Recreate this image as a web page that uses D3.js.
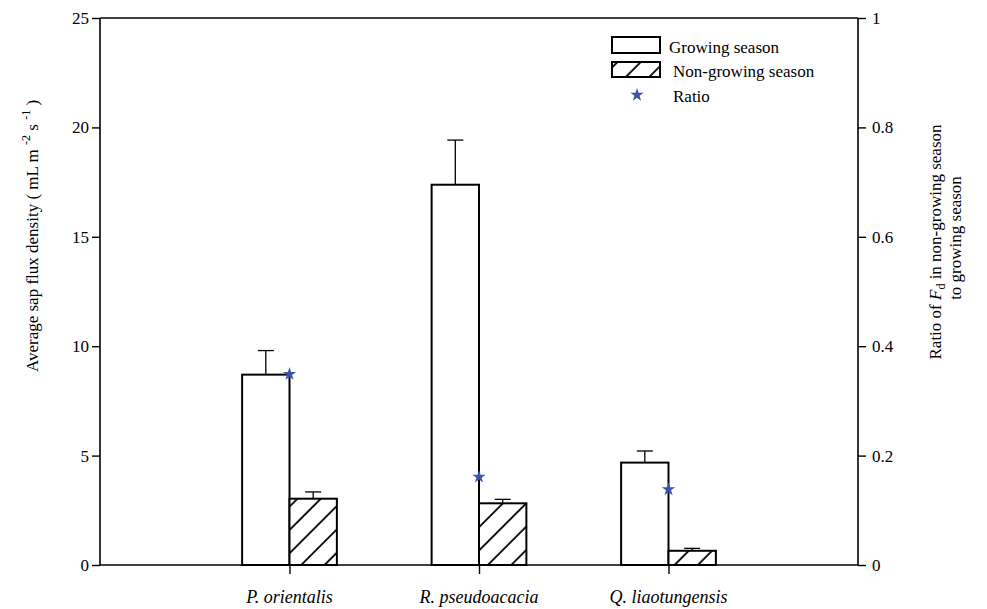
<!DOCTYPE html>
<html><head><meta charset="utf-8">
<style>
@font-face{font-family:"ChartSerif";src:local("Liberation Serif"),local("LiberationSerif");font-style:normal;}
@font-face{font-family:"ChartSerif";src:local("Liberation Serif Italic"),local("LiberationSerif-Italic");font-style:italic;}
body{margin:0;background:#fff}
svg{display:block}
svg text, svg tspan{font-family:"Liberation Serif","ChartSerif",serif}
</style>
<script src="https://cdn.jsdelivr.net/npm/d3@7"></script>
</head><body>
<script>
const categories = ["P. orientalis", "R. pseudoacacia", "Q. liaotungensis"];
const growing = [8.7, 17.38, 4.68];
const growingErr = [1.1, 2.04, 0.53];
const nonGrowing = [3.03, 2.82, 0.65];
const nonGrowingErr = [0.31, 0.18, 0.11];
const ratio = [0.349, 0.161, 0.138];
const leftTicks = [0, 5, 10, 15, 20, 25];
const rightTicks = [0, 0.2, 0.4, 0.6, 0.8, 1];

const W = 987, H = 609;
const svg = d3.select("body").append("svg").attr("width", W).attr("height", H);
const defs = svg.append("defs");
const pw = 16.5;
const pat = defs.append("pattern").attr("id", "hatch2").attr("patternUnits", "userSpaceOnUse")
  .attr("width", pw).attr("height", pw).attr("patternTransform", "rotate(45)");
pat.append("rect").attr("width", pw).attr("height", pw).attr("fill", "#fff");
pat.append("line").attr("x1", 2).attr("y1", -1).attr("x2", 2).attr("y2", pw + 1)
  .attr("stroke", "#000").attr("stroke-width", 1.8);

const L = 100, R = 858, T = 18, B = 565;
const x = d3.scaleLinear().domain([0, 4]).range([L, R]);
const yL = d3.scaleLinear().domain([0, 25]).range([B, T]);
const yR = d3.scaleLinear().domain([0, 1]).range([B, T]);
const bw = 0.25;

const g = svg.append("g");
categories.forEach((c, i) => {
  const cx = i + 1;
  [[cx - bw / 2, growing[i], growingErr[i]], [cx + bw / 2, nonGrowing[i], nonGrowingErr[i]]].forEach(([px, v, e]) => {
    g.append("line").attr("x1", x(px)).attr("x2", x(px)).attr("y1", yL(v)).attr("y2", yL(v + e))
      .attr("stroke", "#000").attr("stroke-width", 1.3);
    g.append("line").attr("x1", x(px) - 8).attr("x2", x(px) + 8).attr("y1", yL(v + e)).attr("y2", yL(v + e))
      .attr("stroke", "#000").attr("stroke-width", 1.3);
  });
  g.append("rect").attr("x", x(cx - bw)).attr("y", yL(growing[i])).attr("width", x(cx) - x(cx - bw))
    .attr("height", yL(0) - yL(growing[i])).attr("fill", "#fff").attr("stroke", "#000").attr("stroke-width", 2);
  g.append("rect").attr("x", x(cx)).attr("y", yL(nonGrowing[i])).attr("width", x(cx + bw) - x(cx))
    .attr("height", yL(0) - yL(nonGrowing[i])).attr("fill", "url(#hatch2)").attr("stroke", "#000").attr("stroke-width", 2);
});

svg.append("line").attr("x1", L).attr("x2", R).attr("y1", T).attr("y2", T).attr("stroke", "#000").attr("stroke-width", 1.6);

const axL = svg.append("g").attr("transform", `translate(${L},0)`)
  .call(d3.axisLeft(yL).tickValues(leftTicks).tickSize(8).tickPadding(3).tickFormat(d3.format("d")));
const axR = svg.append("g").attr("transform", `translate(${R},0)`)
  .call(d3.axisRight(yR).tickValues(rightTicks).tickSize(8).tickPadding(6)
    .tickFormat(d => d === 0 || d === 1 ? d3.format("d")(d) : d3.format(".1f")(d)));
const axB = svg.append("g").attr("transform", `translate(0,${B})`)
  .call(d3.axisBottom(x).tickValues([1, 2, 3]).tickSize(9).tickFormat(""));
[axL, axR, axB].forEach(a => {
  a.attr("font-family", null).attr("font-size", null);
  a.select(".domain").attr("stroke", "#000").attr("stroke-width", 1.6);
  a.selectAll(".tick line").attr("stroke", "#000").attr("stroke-width", 1.4);
  a.selectAll(".tick text").attr("font-size", 17);
});
axL.select(".domain").attr("d", `M0,${B}V${T}`);
axR.select(".domain").attr("d", `M0,${B}V${T}`);
axB.select(".domain").attr("d", `M${L},0H${R}`);

svg.selectAll(".xl").data(categories).enter().append("text").attr("class", "xl")
  .attr("x", (d, i) => x(i + 1)).attr("y", 603).attr("text-anchor", "middle")
  .attr("font-size", 18).attr("font-style", "italic").text(d => d);

const star = d3.symbol().type(d3.symbolStar).size(55);
svg.selectAll(".st").data(ratio).enter().append("path").attr("class", "st")
  .attr("d", star).attr("fill", "#3f51a8")
  .attr("transform", (d, i) => `translate(${x(i + 1)},${yR(d)})`);

const lt = svg.append("text").attr("transform", "translate(38,236) rotate(-90)")
  .attr("text-anchor", "middle").attr("font-size", 17);
lt.append("tspan").text("Average sap flux density ( mL m ");
lt.append("tspan").attr("dy", -8).attr("font-size", 12).text("-2");
lt.append("tspan").attr("dy", 8).text(" s ");
lt.append("tspan").attr("dy", -8).attr("font-size", 12).text("-1");
lt.append("tspan").attr("dy", 8).text("  )");

const rt1 = svg.append("text").attr("transform", "translate(941,242) rotate(-90)")
  .attr("text-anchor", "middle").attr("font-size", 17);
rt1.append("tspan").text("Ratio of ");
rt1.append("tspan").attr("font-style", "italic").text("F");
rt1.append("tspan").attr("font-size", 12).attr("dy", 4).text("d");
rt1.append("tspan").attr("dy", -4).text(" in non-growing season");
svg.append("text").attr("transform", "translate(961,238) rotate(-90)")
  .attr("text-anchor", "middle").attr("font-size", 17).text("to growing season");

const lg = svg.append("g");
lg.append("rect").attr("x", 612).attr("y", 37).attr("width", 48).attr("height", 16)
  .attr("fill", "#fff").attr("stroke", "#000").attr("stroke-width", 2);
lg.append("text").attr("x", 669).attr("y", 53).attr("font-size", 17).text("Growing season");
lg.append("rect").attr("x", 612).attr("y", 62).attr("width", 48).attr("height", 15)
  .attr("fill", "url(#hatch2)").attr("stroke", "#000").attr("stroke-width", 2);
lg.append("text").attr("x", 673).attr("y", 77).attr("font-size", 17).text("Non-growing season");
lg.append("path").attr("d", star).attr("fill", "#3f51a8").attr("transform", "translate(637,95)");
lg.append("text").attr("x", 673).attr("y", 102).attr("font-size", 17).text("Ratio");

svg.selectAll("text").style("font-family", '"Liberation Serif", serif').attr("fill", "#000");
</script>
</body></html>
